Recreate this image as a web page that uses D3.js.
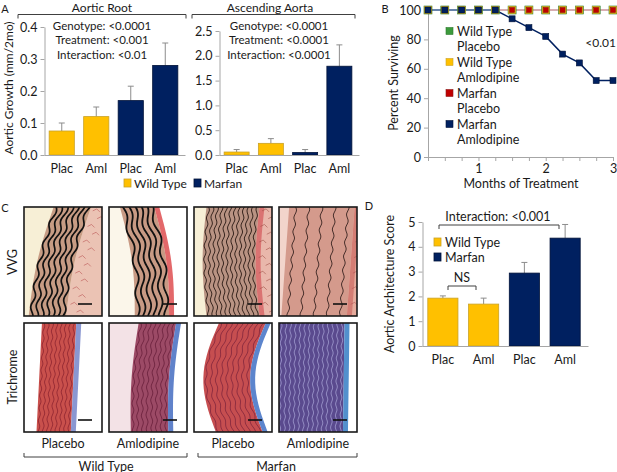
<html>
<head>
<meta charset="utf-8">
<script src="https://d3js.org/d3.v7.min.js"></script>
<style>
body { margin: 0; background: #fff; }
svg text { font-family: Lato, "Open Sans", sans-serif; fill: #1a1a1a; }
</style>
</head>
<body>
<svg id="fig" width="617" height="472"></svg>
<script>

// ---- data ----
var groups    = ["Plac", "Aml", "Plac", "Aml"];
var genotypes = ["Wild Type", "Wild Type", "Marfan", "Marfan"];

// A: aortic growth (mm / 2 mo), mean and SEM
var rootGrowth = [0.075, 0.12, 0.17, 0.28];
var rootErr    = [0.025, 0.03, 0.045, 0.07];
var ascGrowth  = [0.06, 0.235, 0.05, 1.79];
var ascErr     = [0.05, 0.095, 0.06, 0.43];
var rootStats  = ["Genotype: <0.0001", "Treatment: <0.001", "Interaction: <0.01"];
var ascStats   = ["Genotype: <0.0001", "Treatment: <0.0001", "Interaction: <0.0001"];

// B: survival
var months      = [0.25, 0.5, 0.75, 1, 1.25, 1.5, 1.75, 2, 2.25, 2.5, 2.75, 3];
var survWTPlac  = [100, 100, 100, 100, 100, 100, 100, 100, 100, 100, 100, 100];
var survWTAml   = [100, 100, 100, 100, 100, 100, 100, 100, 100, 100, 100, 100];
var survMfnPlac = [100, 100, 100, 100, 100, 100, 100, 100, 100, 100, 100, 100];
var survMfnAml  = [100, 100, 100, 100, 100, 94, 88, 82, 70, 64, 52, 52];
var survNames   = [["Wild Type", "Placebo"], ["Wild Type", "Amlodipine"], ["Marfan", "Placebo"], ["Marfan", "Amlodipine"]];

// C: histology panels
var stains    = ["VVG", "Trichrome"];
var treatment = ["Placebo", "Amlodipine", "Placebo", "Amlodipine"];

// D: aortic architecture score
var archScore = [1.93, 1.69, 2.94, 4.35];
var archErr   = [0.09, 0.24, 0.43, 0.55];

var YELLOW = "#ffc000", NAVY = "#002060";
var color = d3.scaleOrdinal().domain(["Wild Type", "Marfan"]).range([YELLOW, NAVY]);
var edge  = d3.scaleOrdinal().domain(["Wild Type", "Marfan"]).range(["#c9a227", "#001238"]);

var svg = d3.select("#fig");

function txt(g, x, y, s, size, anchor, rot) {
	var t = g.append("text")
		.attr("x", x).attr("y", y)
		.attr("font-size", size)
		.attr("text-anchor", anchor || "middle")
		.attr("dominant-baseline", "central")
		.text(s);
	if (rot) t.attr("transform", `rotate(${rot},${x},${y})`);
	return t;
}

function styleAxis(g, size) {
	g.select(".domain").attr("stroke", "#a6a6a6");
	g.selectAll(".tick line").attr("stroke", "#a6a6a6");
	g.selectAll(".tick text").attr("font-size", size || 12).attr("fill", "#1a1a1a")
		.style("font-family", "Lato, 'Open Sans', sans-serif");
}

// bracket: ends = +1 point down, -1 point up
function bracket(g, x0, x1, y, ends) {
	g.append("path")
		.attr("d", `M${x0},${y + 4 * ends}V${y}H${x1}V${y + 4 * ends}`)
		.attr("fill", "none").attr("stroke", "#404040").attr("stroke-width", 1);
}

function barPanel(cfg) {
	var g = svg.append("g");
	var x = d3.scaleBand().domain(d3.range(groups.length)).range(cfg.xr).paddingInner(cfg.pad).paddingOuter(cfg.pad / 2);
	var y = d3.scaleLinear().domain(cfg.yd).range(cfg.yr);

	var ya = g.append("g").attr("transform", `translate(${cfg.xr[0]},0)`)
		.call(d3.axisLeft(y).ticks(cfg.ticks).tickFormat(d3.format(cfg.fmt)).tickSize(4).tickSizeOuter(0));
	styleAxis(ya, 12.5);

	// error bars (upper arm only)
	g.selectAll(".err").data(cfg.vals).enter().append("path")
		.attr("d", (d, i) => {
			var cx = x(i) + x.bandwidth() / 2, top = y(d + cfg.errs[i]);
			return `M${cx},${y(d)}V${top}M${cx - 3},${top}H${cx + 3}`;
		})
		.attr("stroke", "#8c8c8c").attr("stroke-width", 1).attr("fill", "none");

	g.selectAll(".bar").data(cfg.vals).enter().append("rect")
		.attr("x", (d, i) => x(i))
		.attr("y", d => y(d))
		.attr("width", x.bandwidth())
		.attr("height", d => y(0) - y(d))
		.attr("fill", (d, i) => color(genotypes[i]))
		.attr("stroke", (d, i) => edge(genotypes[i]))
		.attr("stroke-width", 0.8);

	var xa = g.append("g").attr("transform", `translate(0,${y(0)})`)
		.call(d3.axisBottom(x).tickSize(0).tickPadding(9).tickFormat(i => groups[i]));
	xa.select(".domain").attr("d", `M${cfg.xr[0]},0.5H${cfg.xr[1] + 3}`);
	styleAxis(xa, 12.5);
	return {g: g, x: x, y: y};
}

// ---------------- Panel A ----------------
txt(svg, 5, 8, "A", 11);
txt(svg, 102, 7, "Aortic Root", 12);
txt(svg, 270, 7, "Ascending Aorta", 12);
bracket(svg, 18, 186, 14.5, 1);
bracket(svg, 192, 355, 14.5, 1);
txt(svg, 8, 88, "Aortic Growth (mm/2mo)", 12, "middle", -90);

barPanel({xr: [44.5, 182.5], pad: 0.27, yd: [0, 0.4], yr: [155, 27], ticks: 4, fmt: ".1f", vals: rootGrowth, errs: rootErr});
barPanel({xr: [219.5, 356.5], pad: 0.27, yd: [0, 2.5], yr: [155, 31], ticks: 5, fmt: ".1f", vals: ascGrowth, errs: ascErr});

rootStats.forEach((s, i) => txt(svg, 102, 25 + i * 14.5, s, 11.5));
ascStats.forEach((s, i) => txt(svg, 279, 25 + i * 14.5, s, 11.5));

// legend A
var legA = svg.append("g");
[["Wild Type", 124], ["Marfan", 194]].forEach(function(d) {
	legA.append("rect").attr("x", d[1]).attr("y", 179).attr("width", 7).attr("height", 8)
		.attr("fill", color(d[0])).attr("stroke", edge(d[0])).attr("stroke-width", 0.8);
	txt(legA, d[1] + 10, 183, d[0], 12, "start");
});

// ---------------- Panel B ----------------
txt(svg, 385, 8, "B", 11);
var bx = d3.scaleLinear().domain([0.25, 3]).range([428, 613]);
var by = d3.scaleLinear().domain([0, 100]).range([157, 10]);
var gB = svg.append("g");

var bya = gB.append("g").attr("transform", "translate(428,0)")
	.call(d3.axisLeft(by).ticks(5).tickSize(4).tickSizeOuter(0));
styleAxis(bya, 12.5);
var bxa = gB.append("g").attr("transform", `translate(0,${by(0)})`)
	.call(d3.axisBottom(bx).tickValues(months).tickFormat(d => d % 1 === 0 ? d : "").tickSize(4).tickSizeOuter(0));
bxa.select(".domain").attr("d", "M424,0.5H613");
styleAxis(bxa, 12.5);
txt(gB, 393, 83, "Percent Surviving", 12.5, "middle", -90);
txt(gB, 521, 183, "Months of Treatment", 12.5);

var defs = svg.append("defs");
var grad = defs.append("linearGradient").attr("id", "mpLine").attr("gradientUnits", "userSpaceOnUse")
	.attr("x1", bx(0.25)).attr("x2", bx(3)).attr("y1", 0).attr("y2", 0);
var gstop = (bx(1.25) - bx(0.25)) / (bx(3) - bx(0.25));
grad.append("stop").attr("offset", gstop).attr("stop-color", "#e8847c").attr("stop-opacity", 0);
grad.append("stop").attr("offset", gstop).attr("stop-color", "#e8847c").attr("stop-opacity", 1);

var survSeries = [
	{vals: survWTPlac,  fill: "#3c9a3c", stroke: "#2d7a2d", line: "#8fb0cf", lw: 1.2, size: 8},
	{vals: survWTAml,   fill: YELLOW,    stroke: "#c9a227", line: "none",    lw: 1.2, size: 7},
	{vals: survMfnPlac, fill: "#c00000", stroke: "#8c1a1a", line: "url(#mpLine)", lw: 1.2, size: 5},
	{vals: survMfnAml,  fill: NAVY,      stroke: "#001238", line: NAVY,      lw: 1.5, size: 6}
];
var line = d3.line().x((d, i) => bx(months[i])).y(d => by(d));

// navy line beneath the 100% lines
gB.append("path").attr("d", line(survMfnAml)).attr("fill", "none").attr("stroke", NAVY).attr("stroke-width", 1.5);
survSeries.slice(0, 3).forEach(function(s) {
	gB.append("path").attr("d", line(s.vals)).attr("fill", "none").attr("stroke", s.line).attr("stroke-width", s.lw);
});
survSeries.forEach(function(s) {
	gB.selectAll(null).data(s.vals).enter().append("rect")
		.attr("x", (d, i) => bx(months[i]) - s.size / 2)
		.attr("y", d => by(d) - s.size / 2)
		.attr("width", s.size).attr("height", s.size)
		.attr("fill", s.fill).attr("stroke", s.stroke).attr("stroke-width", 0.6);
});
txt(gB, 616, 42, "<0.01", 12, "end");

survNames.forEach(function(n, i) {
	var yy = 31 + i * 31;
	gB.append("rect").attr("x", 446).attr("y", yy - 3.5).attr("width", 7).attr("height", 7)
		.attr("fill", survSeries[i].fill).attr("stroke", survSeries[i].stroke).attr("stroke-width", 0.6);
	txt(gB, 457, yy, n[0], 12.5, "start");
	txt(gB, 457, yy + 15, n[1], 12.5, "start");
});

// ---------------- Panel C ----------------
txt(svg, 5, 207, "C", 11);
var colX = [24, 109, 194, 279], rowY = [207, 323], fw = 78, fh = 109;
txt(svg, 12, 262, stains[0], 12.5, "middle", -90);
txt(svg, 12, 377, stains[1], 12.5, "middle", -90);
treatment.forEach((t, i) => txt(svg, colX[i] + fw / 2, 443, t, 12.5));
bracket(svg, 24, 187, 457, -1);
bracket(svg, 198, 357, 457, -1);
txt(svg, 106, 466, "Wild Type", 12.5);
txt(svg, 276, 466, "Marfan", 12.5);

// stylised tissue for each micrograph: band of wall running top to bottom
var tissue = [
	// VVG row
	{bg: "#f7efd6", right: "#ebc3b4", a: 0.62, b: 0.3, bulge: -0.05, hw: 0.24, band: "#c79c84", rim: null,
	 n: 7, sc: "#111", sw: 1.7, amp: 1.8, fq: 0.3, speck: "#b84f4f"},
	{bg: "#fbf6ea", right: "#ffffff", a: 0.36, b: 0.55, bulge: 0.06, hw: 0.22, band: "#c89a84", rim: "#e0585a",
	 n: 6, sc: "#111", sw: 1.8, amp: 2.2, fq: 0.2, speck: null},
	{bg: "#f7efd6", right: "#e9b7ab", a: 0.5, b: 0.5, bulge: -0.05, hw: 0.34, band: "#b99383", rim: "#d86b6b",
	 n: 12, sc: "#2a1a14", sw: 0.9, amp: 1.2, fq: 0.45, speck: "#9c4a40"},
	{bg: "#f2d4cb", right: "#e6ab9c", a: 0.55, b: 0.45, bulge: 0, hw: 0.42, band: "#d49a8c", rim: "#d27870",
	 n: 5, sc: "#3a2420", sw: 0.9, amp: 1.2, fq: 0.45, speck: "#b05050"},
	// Trichrome row
	{bg: "#ffffff", right: "#ffffff", a: 0.45, b: 0.38, bulge: 0, hw: 0.22, band: "#c9504c", rim: "#7d8ccc",
	 n: 8, sc: "#8e2430", sw: 0.8, amp: 1, fq: 0.5, speck: null},
	{bg: "#f3e2e6", right: "#ffffff", a: 0.62, b: 0.52, bulge: -0.04, hw: 0.24, band: "#9c4a66", rim: "#4f74c4",
	 n: 8, sc: "#6e2440", sw: 0.9, amp: 1.1, fq: 0.45, speck: null},
	{bg: "#ffffff", right: "#ffffff", a: 0.62, b: 0.58, bulge: -0.18, hw: 0.3, band: "#c64e50", rim: "#4a78c8",
	 n: 9, sc: "#8a2a3e", sw: 0.9, amp: 1.1, fq: 0.4, speck: null},
	{bg: "#ffffff", right: "#ffffff", a: 0.42, b: 0.4, bulge: 0, hw: 0.42, band: "#5a4a8e", rim: "#3f84c8",
	 n: 14, sc: "#aaa6d8", sw: 0.7, amp: 0.9, fq: 0.55, speck: null}
];

tissue.forEach(function(s, k) {
	var col = k % 4, row = Math.floor(k / 4);
	var ox = colX[col], oy = rowY[row];
	var id = "clip" + k;
	defs.append("clipPath").attr("id", id).append("rect").attr("width", fw).attr("height", fh);
	var g = svg.append("g").attr("transform", `translate(${ox},${oy})`);
	var inner = g.append("g").attr("clip-path", `url(#${id})`);
	var cx = t => (s.a + (s.b - s.a) * t + s.bulge * Math.sin(Math.PI * t)) * fw;
	var ts = d3.range(0, 1.0001, 0.05);
	var edgeL = ts.map(t => [cx(t) - s.hw * fw, t * fh]);
	var edgeR = ts.map(t => [cx(t) + s.hw * fw, t * fh]);

	inner.append("rect").attr("width", fw).attr("height", fh).attr("fill", s.bg);
	inner.append("path")
		.attr("d", "M" + edgeR.map(p => p.join(",")).join("L") + `L${fw + 2},${fh}L${fw + 2},0Z`)
		.attr("fill", s.right);
	inner.append("path")
		.attr("d", "M" + edgeL.concat(edgeR.slice().reverse()).map(p => p.join(",")).join("L") + "Z")
		.attr("fill", s.band);
	if (s.rim) {
		var rim = ts.map(t => [cx(t) + s.hw * fw + 5, t * fh]);
		inner.append("path")
			.attr("d", "M" + edgeR.concat(rim.slice().reverse()).map(p => p.join(",")).join("L") + "Z")
			.attr("fill", s.rim).attr("opacity", 0.9);
	}
	if (s.speck) {
		d3.range(14).forEach(function(j) {
			var t = (j + 0.5) / 14;
			var x0 = cx(t) + s.hw * fw + 3 + (j * 7) % 14;
			inner.append("path")
				.attr("d", `M${x0},${t * fh}l4,-2l3,3`)
				.attr("fill", "none").attr("stroke", s.speck).attr("stroke-width", 0.8).attr("opacity", 0.7);
		});
	}
	// parallel wavy lamellae
	d3.range(s.n).forEach(function(j) {
		var off = -s.hw + (j + 0.5) * (2 * s.hw / s.n);
		var pts = d3.range(-4, fh + 5, 2).map(y => [cx(y / fh) + off * fw + s.amp * Math.sin(y * s.fq + j * 0.35), y]);
		inner.append("path").attr("d", d3.line().curve(d3.curveBasis)(pts))
			.attr("fill", "none").attr("stroke", s.sc).attr("stroke-width", s.sw);
	});
	// scale bar
	g.append("line").attr("x1", fw - 24).attr("x2", fw - 10).attr("y1", fh - 12).attr("y2", fh - 12)
		.attr("stroke", "#111").attr("stroke-width", 1.6);
	g.append("rect").attr("width", fw).attr("height", fh)
		.attr("fill", "none").attr("stroke", "#1a1a1a").attr("stroke-width", 1.6);
});

// ---------------- Panel D ----------------
txt(svg, 369, 205, "D", 11);
var pD = barPanel({xr: [422.5, 585.5], pad: 0.26, yd: [0, 5], yr: [346, 222], ticks: 5, fmt: "d", vals: archScore, errs: archErr});
txt(svg, 389, 284, "Aortic Architecture Score", 12.5, "middle", -90);
bracket(svg, 439, 559, 225, 1);
txt(svg, 498, 216, "Interaction: <0.001", 12.5);
bracket(svg, 448, 476, 286, 1);
txt(svg, 462, 277, "NS", 12.5);
[["Wild Type", 242], ["Marfan", 257]].forEach(function(d) {
	svg.append("rect").attr("x", 434).attr("y", d[1] - 4).attr("width", 7).attr("height", 8)
		.attr("fill", color(d[0])).attr("stroke", edge(d[0])).attr("stroke-width", 0.8);
	txt(svg, 445, d[1], d[0], 12.5, "start");
});

</script>
</body>
</html>
